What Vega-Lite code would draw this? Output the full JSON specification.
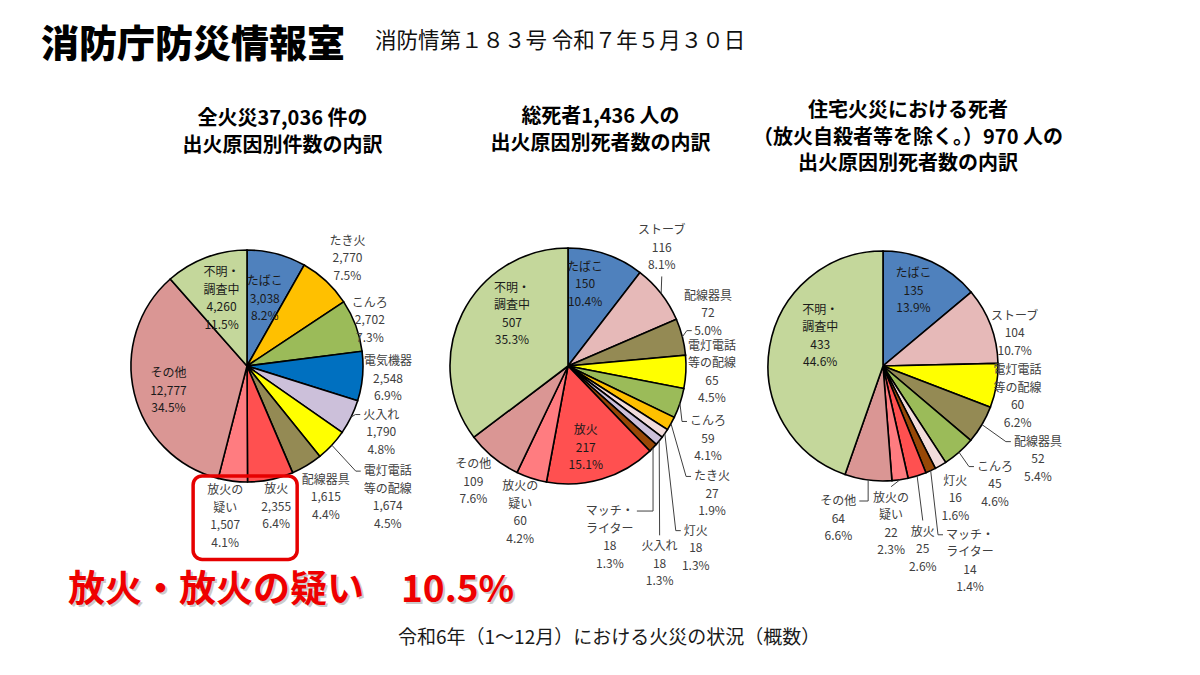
{
  "$schema": "https://vega.github.io/schema/vega-lite/v6.json",
  "background": "white",
  "padding": {"left": 40, "top": 18, "right": 10, "bottom": 5},
  "config": {"view": {"stroke": null}, "font": "Noto Sans CJK JP"},
  "columns": 3,
  "align": "each",
  "bounds": "flush",
  "spacing": {"row": 158, "column": 0},
  "concat": [
    {
      "width": 2,
      "height": 44,
      "data": {"values": [{"label": "消防庁防災情報室"}]},
      "mark": {"type": "text", "align": "left", "baseline": "middle", "fontSize": 38, "fontWeight": 900, "color": "#000000"},
      "encoding": {"text": {"field": "label", "type": "nominal"}}
    },
    {
      "width": 28,
      "height": 44,
      "data": {"values": [{"label": "消防情第１８３号 令和７年５月３０日"}]},
      "mark": {"type": "text", "align": "left", "baseline": "middle", "fontSize": 21.5, "color": "#111111", "dy": -4},
      "encoding": {"text": {"field": "label", "type": "nominal"}}
    },
    {
      "width": 1,
      "height": 1,
      "data": {"values": [{"label": ""}]},
      "mark": {"type": "text"},
      "encoding": {"text": {"field": "label", "type": "nominal"}}
    },
    {
      "width": 321,
      "height": 180,
      "title": {"text": ["全火災37,036 件の", "出火原因別件数の内訳"], "anchor": "middle", "frame": "group", "fontSize": 20, "fontWeight": "bold", "lineHeight": 27, "offset": 70, "dx": 82, "color": "#000000"},
      "data": {"values": [
        {"order": 1, "cause": "たばこ", "value": 3038},
        {"order": 2, "cause": "たき火", "value": 2770},
        {"order": 3, "cause": "こんろ", "value": 2702},
        {"order": 4, "cause": "電気機器", "value": 2548},
        {"order": 5, "cause": "火入れ", "value": 1790},
        {"order": 6, "cause": "電灯電話等の配線", "value": 1674},
        {"order": 7, "cause": "配線器具", "value": 1615},
        {"order": 8, "cause": "放火", "value": 2355},
        {"order": 9, "cause": "放火の疑い", "value": 1507},
        {"order": 10, "cause": "その他", "value": 12777},
        {"order": 11, "cause": "不明・調査中", "value": 4260}
      ]},
      "transform": [
        {"joinaggregate": [{"op": "sum", "field": "value", "as": "total"}]},
        {"window": [{"op": "sum", "field": "value", "as": "cum"}], "sort": [{"field": "order", "order": "ascending"}], "frame": [null, 0]},
        {"calculate": "(datum.cum - datum.value / 2) / datum.total * 360", "as": "mid"},
        {"calculate": "replace(replace(replace(replace(datum.cause, '不明・', '不明・\\n'), '電灯電話', '電灯電話\\n'), '放火の疑い', '放火の\\n疑い'), 'マッチ・', 'マッチ・\\n') + '\\n' + format(datum.value, ',') + '\\n' + format(datum.value / datum.total, '.1%')", "as": "text"},
        {"calculate": "({'その他': -4, '放火の疑い': 1.2})[datum.cause] || 0", "as": "da"},
        {"calculate": "({'たばこ': 0.60, 'たき火': 1.27, 'こんろ': 1.13, '電気機器': 1.22, '火入れ': 1.29, '電灯電話等の配線': 1.66, '配線器具': 1.32, '放火': 1.24, '放火の疑い': 1.31, 'その他': 0.71, '不明・調査中': 0.62})[datum.cause]", "as": "lr"},
        {"calculate": "({'火入れ': 'L', '電灯電話等の配線': 'L'})[datum.cause] || ''", "as": "kind"},
        {"calculate": "(datum.mid + datum.da) * PI / 180", "as": "la"},
        {"calculate": "sin(datum.la) * datum.lr", "as": "lx"},
        {"calculate": "cos(datum.la) * datum.lr", "as": "ly"},
        {"calculate": "sin(datum.mid * PI / 180) * 1.0", "as": "ex"},
        {"calculate": "cos(datum.mid * PI / 180) * 1.0", "as": "ey"},
        {"calculate": "split(datum.text, '\\n')", "as": "lines"},
        {"calculate": "length(datum.lines)", "as": "nl"},
        {"calculate": "datum.ly + (datum.nl - 1) * 0.07543", "as": "ty"},
        {"calculate": "(datum.kind === 'Ll' ? length(datum.lines[datum.nl - 1]) * 0.55 : length(datum.lines[0])) * 12 / 232", "as": "hw"},
        {"calculate": "datum.kind === 'T' ? datum.ly + datum.nl * 0.07543 + 0.02 : datum.kind === 'B' ? datum.ly - datum.nl * 0.07543 - 0.02 : datum.kind === 'Ll' ? datum.ly - (datum.nl - 1) * 0.07543 : datum.ly + (datum.nl - 1) * 0.07543", "as": "tipY"},
        {"calculate": "datum.kind === 'R' ? datum.lx + datum.hw + 0.026 : (datum.kind === 'L' || datum.kind === 'Ll') ? datum.lx - datum.hw - 0.026 : datum.lx", "as": "tipX"},
        {"calculate": "datum.kind === 'R' ? datum.ex : (datum.kind === 'L' || datum.kind === 'Ll') ? datum.tipX - 0.043 : datum.tipX", "as": "elbX"}
      ],
      "layer": [
        {
          "mark": {"type": "arc", "outerRadius": 116, "stroke": "#000000", "strokeWidth": 1.6},
          "encoding": {
            "x": {"datum": 0, "type": "quantitative", "scale": {"domain": [-1.78448, 0.98276], "zero": false, "nice": false}, "axis": null},
            "y": {"datum": 0, "type": "quantitative", "scale": {"domain": [-0.34483, 1.2069], "zero": false, "nice": false}, "axis": null},
            "theta": {"field": "value", "type": "quantitative", "stack": true},
            "order": {"field": "order", "type": "quantitative"},
            "color": {"field": "cause", "type": "nominal", "legend": null, "scale": {
              "domain": ["たばこ", "たき火", "こんろ", "電気機器", "火入れ", "電灯電話等の配線", "配線器具", "放火", "放火の疑い", "その他", "不明・調査中", "ストーブ", "灯火", "マッチ・ライター"],
              "range": ["#4F81BD", "#FFC000", "#9BBB59", "#0070C0", "#CCC0DA", "#FFFF00", "#948A54", "#FF5050", "#FF7C80", "#DA9694", "#C4D79B", "#E6B9B8", "#F2DCDB", "#984807"]}}
          }
        },
        {
          "transform": [{"filter": "datum.kind !== ''"}],
          "mark": {"type": "rule", "color": "#404040", "strokeWidth": 1},
          "encoding": {
            "x": {"field": "ex", "type": "quantitative", "scale": {"domain": [-1.78448, 0.98276], "zero": false, "nice": false}, "axis": null},
            "y": {"field": "ey", "type": "quantitative", "scale": {"domain": [-0.34483, 1.2069], "zero": false, "nice": false}, "axis": null},
            "x2": {"field": "elbX"},
            "y2": {"field": "tipY"}
          }
        },
        {
          "transform": [{"filter": "datum.kind !== ''"}],
          "mark": {"type": "rule", "color": "#404040", "strokeWidth": 1},
          "encoding": {
            "x": {"field": "elbX", "type": "quantitative", "scale": {"domain": [-1.78448, 0.98276], "zero": false, "nice": false}, "axis": null},
            "y": {"field": "tipY", "type": "quantitative", "scale": {"domain": [-0.34483, 1.2069], "zero": false, "nice": false}, "axis": null},
            "x2": {"field": "tipX"},
            "y2": {"field": "tipY"}
          }
        },
        {
          "mark": {"type": "text", "align": "center", "baseline": "middle", "fontSize": 12, "lineHeight": 17.5, "lineBreak": "\n"},
          "encoding": {
            "x": {"field": "lx", "type": "quantitative", "scale": {"domain": [-1.78448, 0.98276], "zero": false, "nice": false}, "axis": null},
            "y": {"field": "ty", "type": "quantitative", "scale": {"domain": [-0.34483, 1.2069], "zero": false, "nice": false}, "axis": null},
            "text": {"field": "text", "type": "nominal"},
            "color": {"condition": {"test": "datum.lr < 1", "value": "#1a1a1a"}, "value": "#404040"}
          }
        },
        {
          "transform": [
            {"filter": "datum.cause === '放火' || datum.cause === '放火の疑い'"},
            {"aggregate": [{"op": "min", "field": "lx", "as": "x0"}, {"op": "max", "field": "lx", "as": "x1"}, {"op": "min", "field": "ly", "as": "y0"}, {"op": "max", "field": "ly", "as": "y1"}]},
            {"calculate": "datum.x0 - 0.276", "as": "bx0"},
            {"calculate": "datum.x1 + 0.181", "as": "bx1"},
            {"calculate": "datum.y0 - 0.371", "as": "by0"},
            {"calculate": "datum.y1 + 0.267", "as": "by1"}
          ],
          "mark": {"type": "rect", "fill": "#ffffff", "fillOpacity": 0, "stroke": "#E60000", "strokeWidth": 3.5, "cornerRadius": 9},
          "encoding": {
            "x": {"field": "bx0", "type": "quantitative", "scale": {"domain": [-1.78448, 0.98276], "zero": false, "nice": false}, "axis": null},
            "x2": {"field": "bx1"},
            "y": {"field": "by1", "type": "quantitative", "scale": {"domain": [-0.34483, 1.2069], "zero": false, "nice": false}, "axis": null},
            "y2": {"field": "by0"}
          }
        }
      ]
    },
    {
      "width": 315,
      "height": 180,
      "title": {"text": ["総死者1,436 人の", "出火原因別死者数の内訳"], "anchor": "middle", "frame": "group", "fontSize": 20, "fontWeight": "bold", "lineHeight": 27, "offset": 70, "dx": 82, "color": "#000000"},
      "data": {"values": [
        {"order": 1, "cause": "たばこ", "value": 150},
        {"order": 2, "cause": "ストーブ", "value": 116},
        {"order": 3, "cause": "配線器具", "value": 72},
        {"order": 4, "cause": "電灯電話等の配線", "value": 65},
        {"order": 5, "cause": "こんろ", "value": 59},
        {"order": 6, "cause": "たき火", "value": 27},
        {"order": 7, "cause": "灯火", "value": 18},
        {"order": 8, "cause": "火入れ", "value": 18},
        {"order": 9, "cause": "マッチ・ライター", "value": 18},
        {"order": 10, "cause": "放火", "value": 217},
        {"order": 11, "cause": "放火の疑い", "value": 60},
        {"order": 12, "cause": "その他", "value": 109},
        {"order": 13, "cause": "不明・調査中", "value": 507}
      ]},
      "transform": [
        {"joinaggregate": [{"op": "sum", "field": "value", "as": "total"}]},
        {"window": [{"op": "sum", "field": "value", "as": "cum"}], "sort": [{"field": "order", "order": "ascending"}], "frame": [null, 0]},
        {"calculate": "(datum.cum - datum.value / 2) / datum.total * 360", "as": "mid"},
        {"calculate": "replace(replace(replace(replace(datum.cause, '不明・', '不明・\\n'), '電灯電話', '電灯電話\\n'), '放火の疑い', '放火の\\n疑い'), 'マッチ・', 'マッチ・\\n') + '\\n' + format(datum.value, ',') + '\\n' + format(datum.value / datum.total, '.1%')", "as": "text"},
        {"calculate": "({'たばこ': -7, 'ストーブ': -13.7, '配線器具': -6.4, '電灯電話等の配線': -0.5, 'こんろ': 9.1, 'たき火': 12.4, '灯火': 20.1, '火入れ': 25.8, 'マッチ・ライター': 32.4, '放火': 4.4, '不明・調査中': 16.5})[datum.cause] || 0", "as": "da"},
        {"calculate": "({'たばこ': 0.72, 'ストーブ': 1.30, '配線器具': 1.29, '電灯電話等の配線': 1.242, 'こんろ': 1.361, 'たき火': 1.661, '灯火': 1.918, '火入れ': 1.88, 'マッチ・ライター': 1.52, '放火': 0.72, '放火の疑い': 1.33, 'その他': 1.29, '不明・調査中': 0.66})[datum.cause]", "as": "lr"},
        {"calculate": "({'ストーブ': 'B', '配線器具': 'Ll', 'こんろ': 'L', 'たき火': 'L', '灯火': 'L', '火入れ': 'T', 'マッチ・ライター': 'R'})[datum.cause] || ''", "as": "kind"},
        {"calculate": "(datum.mid + datum.da) * PI / 180", "as": "la"},
        {"calculate": "sin(datum.la) * datum.lr", "as": "lx"},
        {"calculate": "cos(datum.la) * datum.lr", "as": "ly"},
        {"calculate": "sin(datum.mid * PI / 180) * 1.017", "as": "ex"},
        {"calculate": "cos(datum.mid * PI / 180) * 1.017", "as": "ey"},
        {"calculate": "split(datum.text, '\\n')", "as": "lines"},
        {"calculate": "length(datum.lines)", "as": "nl"},
        {"calculate": "datum.ly + (datum.nl - 1) * 0.07543", "as": "ty"},
        {"calculate": "(datum.kind === 'Ll' ? length(datum.lines[datum.nl - 1]) * 0.55 : length(datum.lines[0])) * 12 / 232", "as": "hw"},
        {"calculate": "datum.kind === 'T' ? datum.ly + datum.nl * 0.07543 + 0.02 : datum.kind === 'B' ? datum.ly - datum.nl * 0.07543 - 0.02 : datum.kind === 'Ll' ? datum.ly - (datum.nl - 1) * 0.07543 : datum.ly + (datum.nl - 1) * 0.07543", "as": "tipY"},
        {"calculate": "datum.kind === 'R' ? datum.lx + datum.hw + 0.026 : (datum.kind === 'L' || datum.kind === 'Ll') ? datum.lx - datum.hw - 0.026 : datum.lx", "as": "tipX"},
        {"calculate": "datum.kind === 'R' ? datum.ex : (datum.kind === 'L' || datum.kind === 'Ll') ? datum.tipX - 0.043 : datum.tipX", "as": "elbX"}
      ],
      "layer": [
        {
          "mark": {"type": "arc", "outerRadius": 118, "stroke": "#000000", "strokeWidth": 1.6},
          "encoding": {
            "x": {"datum": 0, "type": "quantitative", "scale": {"domain": [-1.78448, 0.93103], "zero": false, "nice": false}, "axis": null},
            "y": {"datum": 0, "type": "quantitative", "scale": {"domain": [-0.34483, 1.2069], "zero": false, "nice": false}, "axis": null},
            "theta": {"field": "value", "type": "quantitative", "stack": true},
            "order": {"field": "order", "type": "quantitative"},
            "color": {"field": "cause", "type": "nominal", "legend": null, "scale": {
              "domain": ["たばこ", "たき火", "こんろ", "電気機器", "火入れ", "電灯電話等の配線", "配線器具", "放火", "放火の疑い", "その他", "不明・調査中", "ストーブ", "灯火", "マッチ・ライター"],
              "range": ["#4F81BD", "#FFC000", "#9BBB59", "#0070C0", "#CCC0DA", "#FFFF00", "#948A54", "#FF5050", "#FF7C80", "#DA9694", "#C4D79B", "#E6B9B8", "#F2DCDB", "#984807"]}}
          }
        },
        {
          "transform": [{"filter": "datum.kind !== ''"}],
          "mark": {"type": "rule", "color": "#404040", "strokeWidth": 1},
          "encoding": {
            "x": {"field": "ex", "type": "quantitative", "scale": {"domain": [-1.78448, 0.93103], "zero": false, "nice": false}, "axis": null},
            "y": {"field": "ey", "type": "quantitative", "scale": {"domain": [-0.34483, 1.2069], "zero": false, "nice": false}, "axis": null},
            "x2": {"field": "elbX"},
            "y2": {"field": "tipY"}
          }
        },
        {
          "transform": [{"filter": "datum.kind !== ''"}],
          "mark": {"type": "rule", "color": "#404040", "strokeWidth": 1},
          "encoding": {
            "x": {"field": "elbX", "type": "quantitative", "scale": {"domain": [-1.78448, 0.93103], "zero": false, "nice": false}, "axis": null},
            "y": {"field": "tipY", "type": "quantitative", "scale": {"domain": [-0.34483, 1.2069], "zero": false, "nice": false}, "axis": null},
            "x2": {"field": "tipX"},
            "y2": {"field": "tipY"}
          }
        },
        {
          "mark": {"type": "text", "align": "center", "baseline": "middle", "fontSize": 12, "lineHeight": 17.5, "lineBreak": "\n"},
          "encoding": {
            "x": {"field": "lx", "type": "quantitative", "scale": {"domain": [-1.78448, 0.93103], "zero": false, "nice": false}, "axis": null},
            "y": {"field": "ty", "type": "quantitative", "scale": {"domain": [-0.34483, 1.2069], "zero": false, "nice": false}, "axis": null},
            "text": {"field": "text", "type": "nominal"},
            "color": {"condition": {"test": "datum.lr < 1", "value": "#1a1a1a"}, "value": "#404040"}
          }
        }
      ]
    },
    {
      "width": 320,
      "height": 180,
      "title": {"text": ["住宅火災における死者", "（放火自殺者等を除く。）970 人の", "出火原因別死者数の内訳"], "anchor": "middle", "frame": "group", "fontSize": 20, "fontWeight": "bold", "lineHeight": 26.5, "offset": 52, "dx": 72, "color": "#000000"},
      "data": {"values": [
        {"order": 1, "cause": "たばこ", "value": 135},
        {"order": 2, "cause": "ストーブ", "value": 104},
        {"order": 3, "cause": "電灯電話等の配線", "value": 60},
        {"order": 4, "cause": "配線器具", "value": 52},
        {"order": 5, "cause": "こんろ", "value": 45},
        {"order": 6, "cause": "灯火", "value": 16},
        {"order": 7, "cause": "マッチ・ライター", "value": 14},
        {"order": 8, "cause": "放火", "value": 25},
        {"order": 9, "cause": "放火の疑い", "value": 22},
        {"order": 10, "cause": "その他", "value": 64},
        {"order": 11, "cause": "不明・調査中", "value": 433}
      ]},
      "transform": [
        {"joinaggregate": [{"op": "sum", "field": "value", "as": "total"}]},
        {"window": [{"op": "sum", "field": "value", "as": "cum"}], "sort": [{"field": "order", "order": "ascending"}], "frame": [null, 0]},
        {"calculate": "(datum.cum - datum.value / 2) / datum.total * 360", "as": "mid"},
        {"calculate": "replace(replace(replace(replace(datum.cause, '不明・', '不明・\\n'), '電灯電話', '電灯電話\\n'), '放火の疑い', '放火の\\n疑い'), 'マッチ・', 'マッチ・\\n') + '\\n' + format(datum.value, ',') + '\\n' + format(datum.value / datum.total, '.1%')", "as": "text"},
        {"calculate": "({'たばこ': -3, 'ストーブ': 6.6, '電灯電話等の配線': 3, '配線器具': 0.4, 'こんろ': -2.1, '灯火': 1.4, 'マッチ・ライター': 0.45, '放火': 5.0, '放火の疑い': 5.6, 'その他': 8.9, '不明・調査中': 15.9})[datum.cause] || 0", "as": "da"},
        {"calculate": "({'たばこ': 0.70, 'ストーブ': 1.17, '電灯電話等の配線': 1.19, '配線器具': 1.558, 'こんろ': 1.403, '灯火': 1.30, 'マッチ・ライター': 1.841, '放火': 1.615, '放火の疑い': 1.364, 'その他': 1.37, '不明・調査中': 0.60})[datum.cause]", "as": "lr"},
        {"calculate": "({'配線器具': 'L', 'こんろ': 'L', 'マッチ・ライター': 'L', '放火': 'T', '放火の疑い': 'T', 'その他': 'R'})[datum.cause] || ''", "as": "kind"},
        {"calculate": "(datum.mid + datum.da) * PI / 180", "as": "la"},
        {"calculate": "sin(datum.la) * datum.lr", "as": "lx"},
        {"calculate": "cos(datum.la) * datum.lr", "as": "ly"},
        {"calculate": "sin(datum.mid * PI / 180) * 0.991", "as": "ex"},
        {"calculate": "cos(datum.mid * PI / 180) * 0.991", "as": "ey"},
        {"calculate": "split(datum.text, '\\n')", "as": "lines"},
        {"calculate": "length(datum.lines)", "as": "nl"},
        {"calculate": "datum.ly + (datum.nl - 1) * 0.07543", "as": "ty"},
        {"calculate": "(datum.kind === 'Ll' ? length(datum.lines[datum.nl - 1]) * 0.55 : length(datum.lines[0])) * 12 / 232", "as": "hw"},
        {"calculate": "datum.kind === 'T' ? datum.ly + datum.nl * 0.07543 + 0.02 : datum.kind === 'B' ? datum.ly - datum.nl * 0.07543 - 0.02 : datum.kind === 'Ll' ? datum.ly - (datum.nl - 1) * 0.07543 : datum.ly + (datum.nl - 1) * 0.07543", "as": "tipY"},
        {"calculate": "datum.kind === 'R' ? datum.lx + datum.hw + 0.026 : (datum.kind === 'L' || datum.kind === 'Ll') ? datum.lx - datum.hw - 0.026 : datum.lx", "as": "tipX"},
        {"calculate": "datum.kind === 'R' ? datum.ex : (datum.kind === 'L' || datum.kind === 'Ll') ? datum.tipX - 0.043 : datum.tipX", "as": "elbX"}
      ],
      "layer": [
        {
          "mark": {"type": "arc", "outerRadius": 115, "stroke": "#000000", "strokeWidth": 1.6},
          "encoding": {
            "x": {"datum": 0, "type": "quantitative", "scale": {"domain": [-1.78448, 0.97414], "zero": false, "nice": false}, "axis": null},
            "y": {"datum": 0, "type": "quantitative", "scale": {"domain": [-0.34483, 1.2069], "zero": false, "nice": false}, "axis": null},
            "theta": {"field": "value", "type": "quantitative", "stack": true},
            "order": {"field": "order", "type": "quantitative"},
            "color": {"field": "cause", "type": "nominal", "legend": null, "scale": {
              "domain": ["たばこ", "たき火", "こんろ", "電気機器", "火入れ", "電灯電話等の配線", "配線器具", "放火", "放火の疑い", "その他", "不明・調査中", "ストーブ", "灯火", "マッチ・ライター"],
              "range": ["#4F81BD", "#FFC000", "#9BBB59", "#0070C0", "#CCC0DA", "#FFFF00", "#948A54", "#FF5050", "#FF7C80", "#DA9694", "#C4D79B", "#E6B9B8", "#F2DCDB", "#984807"]}}
          }
        },
        {
          "transform": [{"filter": "datum.kind !== ''"}],
          "mark": {"type": "rule", "color": "#404040", "strokeWidth": 1},
          "encoding": {
            "x": {"field": "ex", "type": "quantitative", "scale": {"domain": [-1.78448, 0.97414], "zero": false, "nice": false}, "axis": null},
            "y": {"field": "ey", "type": "quantitative", "scale": {"domain": [-0.34483, 1.2069], "zero": false, "nice": false}, "axis": null},
            "x2": {"field": "elbX"},
            "y2": {"field": "tipY"}
          }
        },
        {
          "transform": [{"filter": "datum.kind !== ''"}],
          "mark": {"type": "rule", "color": "#404040", "strokeWidth": 1},
          "encoding": {
            "x": {"field": "elbX", "type": "quantitative", "scale": {"domain": [-1.78448, 0.97414], "zero": false, "nice": false}, "axis": null},
            "y": {"field": "tipY", "type": "quantitative", "scale": {"domain": [-0.34483, 1.2069], "zero": false, "nice": false}, "axis": null},
            "x2": {"field": "tipX"},
            "y2": {"field": "tipY"}
          }
        },
        {
          "mark": {"type": "text", "align": "center", "baseline": "middle", "fontSize": 12, "lineHeight": 17.5, "lineBreak": "\n"},
          "encoding": {
            "x": {"field": "lx", "type": "quantitative", "scale": {"domain": [-1.78448, 0.97414], "zero": false, "nice": false}, "axis": null},
            "y": {"field": "ty", "type": "quantitative", "scale": {"domain": [-0.34483, 1.2069], "zero": false, "nice": false}, "axis": null},
            "text": {"field": "text", "type": "nominal"},
            "color": {"condition": {"test": "datum.lr < 1", "value": "#1a1a1a"}, "value": "#404040"}
          }
        }
      ]
    },
    {
      "width": 56,
      "height": 66,
      "data": {"values": [{"label": "放火・放火の疑い　10.5%"}]},
      "encoding": {"text": {"field": "label", "type": "nominal"}},
      "layer": [
        {"mark": {"type": "text", "align": "left", "baseline": "middle", "fontSize": 37, "fontWeight": "bold", "color": "#555555", "opacity": 0.3, "dx": 2, "dy": -4}},
        {"mark": {"type": "text", "align": "left", "baseline": "middle", "fontSize": 37, "fontWeight": "bold", "color": "#EE0000", "dy": -6}}
      ]
    },
    {
      "width": 74,
      "height": 154,
      "data": {"values": [{"label": "令和6年（1～12月）における火災の状況（概数）"}]},
      "mark": {"type": "text", "align": "left", "baseline": "middle", "fontSize": 19, "color": "#1a1a1a", "dy": -3},
      "encoding": {"text": {"field": "label", "type": "nominal"}}
    }
  ]
}
